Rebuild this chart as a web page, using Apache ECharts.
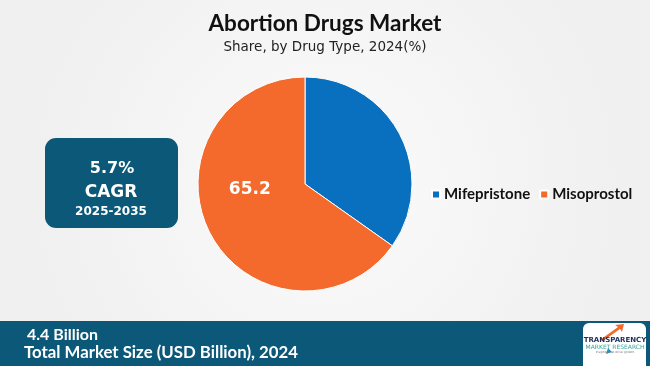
<!DOCTYPE html>
<html>
<head>
<meta charset="utf-8">
<script src="https://cdn.jsdelivr.net/npm/echarts@6/dist/echarts.min.js"></script>
<style>html,body{margin:0;padding:0;background:#f5f5f5}#c{width:650px;height:366px}</style>
</head>
<body>
<div id="c"></div>
<script>
const categories = ['Mifepristone', 'Misoprostol'];
const shares = [34.8, 65.2];
const colors = ['#0870bf', '#f36a2c'];
const titleText = 'Abortion Drugs Market';
const subtitleText = 'Share, by Drug Type, 2024(%)';
const cagrValue = '5.7%';
const cagrLabel = 'CAGR';
const cagrPeriod = '2025-2035';
const marketSize = '4.4 Billion';
const marketLabel = 'Total Market Size (USD Billion), 2024';

const chart = echarts.init(document.getElementById('c'), null, {renderer: 'canvas'});
const teal = '#0c5878';
chart.setOption({
  backgroundColor: {type: 'radial', x: 0.5, y: 0.5, r: 0.8, colorStops: [{offset: 0, color: '#fbfbfb'}, {offset: 1, color: '#f0f0f0'}]},
  animation: false,
  title: [{
    text: titleText, left: 'center', top: 7,
    textStyle: {fontFamily: 'Lato', fontWeight: 'bold', fontSize: 22.5, color: '#111'}
  }, {
    text: subtitleText, left: 'center', top: 35,
    textStyle: {fontFamily: 'DejaVu Sans', fontWeight: 'normal', fontSize: 13.5, color: '#222'}
  }],
  legend: {
    orient: 'horizontal', left: 426, top: 182,
    icon: 'rect', itemWidth: 8, itemHeight: 8, itemGap: 9,
    textStyle: {fontFamily: 'Lato', fontWeight: 'bold', fontSize: 15, color: '#111', padding: [0, 0, 0, -1]},
    data: categories
  },
  graphic: [
    {type: 'rect', shape: {x: 45, y: 138, width: 133, height: 90, r: 11}, style: {fill: teal}},
    {type: 'text', style: {x: 112, y: 169, text: cagrValue, align: 'center', verticalAlign: 'middle', fill: '#fff', font: 'bold 16px "DejaVu Sans"'}},
    {type: 'text', style: {x: 111, y: 193, text: cagrLabel, align: 'center', verticalAlign: 'middle', fill: '#fff', font: 'bold 17px "DejaVu Sans"'}},
    {type: 'text', style: {x: 111, y: 212, text: cagrPeriod, align: 'center', verticalAlign: 'middle', fill: '#fff', font: 'bold 12px "DejaVu Sans"'}},
    {type: 'rect', shape: {x: 0, y: 321, width: 650, height: 45}, style: {fill: teal}},
    {type: 'text', style: {x: 27, y: 335, text: marketSize, align: 'left', verticalAlign: 'middle', fill: '#fff', font: 'bold 16px Lato'}},
    {type: 'text', style: {x: 24, y: 353, text: marketLabel, align: 'left', verticalAlign: 'middle', fill: '#fff', font: 'bold 16.8px Lato'}},
    {type: 'rect', shape: {x: 583, y: 323, width: 63, height: 48, r: 6}, style: {fill: '#ffffff'}},
    {type: 'polygon', shape: {points: [[600, 340], [618, 327], [615, 325], [624, 324], [622, 332], [620, 329], [603, 341]]}, style: {fill: '#f36a2c'}},
    {type: 'polygon', shape: {points: [[612, 352], [606, 354], [608, 348]]}, style: {fill: '#2a8fc9'}},
    {type: 'text', style: {x: 615, y: 340, text: 'TRANSPARENCY', align: 'center', verticalAlign: 'middle', fill: '#1c2e5a', font: 'bold 7px "DejaVu Sans"'}},
    {type: 'text', style: {x: 615, y: 347, text: 'MARKET RESEARCH', align: 'center', verticalAlign: 'middle', fill: '#3aa39a', font: '6px "DejaVu Sans"'}},
    {type: 'text', style: {x: 615, y: 352, text: 'Insights that drive growth', align: 'center', verticalAlign: 'middle', fill: '#777', font: '3px "DejaVu Sans"'}}
  ],
  series: [{
    type: 'pie',
    center: [305, 184],
    radius: [0, 107],
    startAngle: 90,
    clockwise: true,
    itemStyle: {borderColor: '#ffffff', borderWidth: 1},
    label: {
      show: true, position: 'inside',
      formatter: p => p.dataIndex === 1 ? String(p.value) : '',
      color: '#fff', fontFamily: 'DejaVu Sans', fontWeight: 'bold', fontSize: 17
    },
    labelLayout: p => p.dataIndex === 1 ? {dx: -5, dy: -20} : {},
    labelLine: {show: false},
    emphasis: {disabled: true},
    data: categories.map((c, i) => ({name: c, value: shares[i], itemStyle: {color: colors[i]}}))
  }]
});
</script>
</body>
</html>
